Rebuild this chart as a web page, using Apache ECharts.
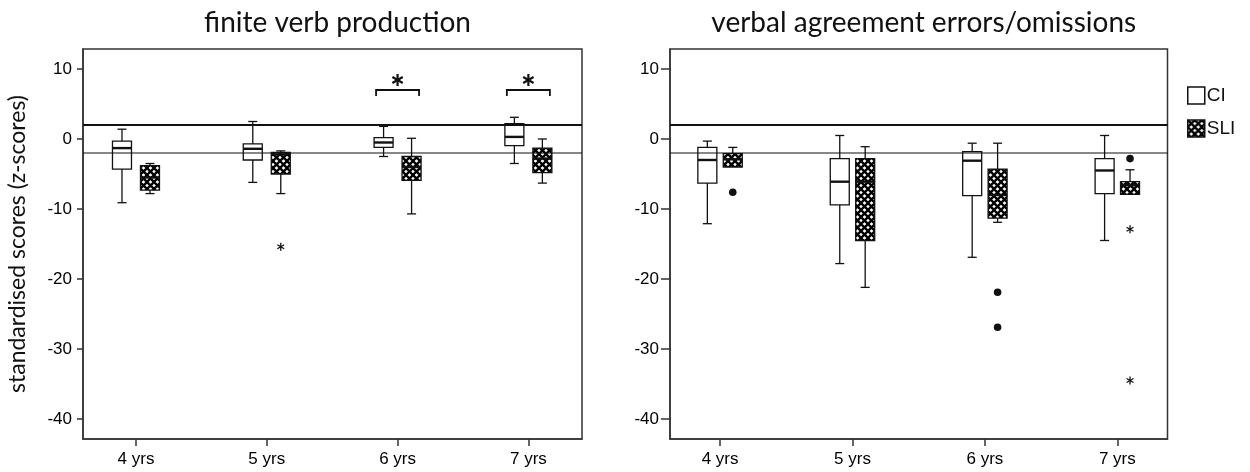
<!DOCTYPE html>
<html><head><meta charset="utf-8">
<script src="https://cdn.jsdelivr.net/npm/echarts@6/dist/echarts.min.js"></script>
<style>html,body{margin:0;padding:0;background:#fff}#c{width:1250px;height:472px}</style>
</head><body><div id="c"></div>
<script>
// ---------------- data ----------------
const categories = ['4 yrs', '5 yrs', '6 yrs', '7 yrs'];
const yTicks = [-40, -30, -20, -10, 0, 10];
const refLines = [2, -2];
const titles = ['finite verb production', 'verbal agreement errors/omissions'];
const yTitle = 'standardised scores (z-scores)';
const groupNames = ['CI', 'SLI'];

// each row: [min, Q1, median, Q3, max], one row per age category
const finiteCI  = [[-9.1, -4.3, -1.3, -0.3, 1.4], [-6.2, -3.0, -1.4, -0.7, 2.5], [-2.5, -1.2, -0.5, 0.2, 1.8], [-3.5, -0.95, 0.3, 2.2, 3.1]];
const finiteSLI = [[-7.8, -7.3, -5.5, -3.8, -3.5], [-7.8, -5.0, -2.2, -1.9, -1.7], [-10.7, -5.9, -4.0, -2.5, 0.1], [-6.3, -4.8, -2.8, -1.3, 0.0]];
const finiteSLIOutliers = [];
const finiteSLIExtremes = [['5 yrs', -15.4]];
const finiteSignificant = ['6 yrs', '7 yrs'];
const significanceLevel = 7;

const agreeCI  = [[-12.1, -6.3, -3.0, -1.2, -0.3], [-17.8, -9.4, -6.1, -2.8, 0.5], [-16.9, -8.1, -3.1, -1.8, -0.6], [-14.5, -7.8, -4.5, -2.8, 0.5]];
const agreeSLI = [[-4.0, -4.0, -2.9, -2.1, -1.2], [-21.2, -14.5, -6.1, -2.8, -1.1], [-11.9, -11.3, -8.0, -4.3, -0.6], [-7.9, -7.9, -6.6, -6.1, -4.4]];
const agreeSLIOutliers = [['4 yrs', -7.6], ['6 yrs', -21.9], ['6 yrs', -26.9], ['7 yrs', -2.8]];
const agreeSLIExtremes = [['7 yrs', -12.9], ['7 yrs', -34.5]];
const agreeSignificant = [];

// ---------------- styles ----------------
const INK = '#111';
const BOX_W = 19, CAP_W = 9;

function makeHatch() {
  const s = 7, c = document.createElement('canvas');
  c.width = s; c.height = s;
  const g = c.getContext('2d');
  g.fillStyle = '#fff'; g.fillRect(0, 0, s, s);
  g.strokeStyle = '#000'; g.lineWidth = 2.3;
  for (const dx of [-s, 0, s]) {
    g.beginPath(); g.moveTo(dx, 0); g.lineTo(dx + s, s); g.stroke();
    g.beginPath(); g.moveTo(dx + s, 0); g.lineTo(dx, s); g.stroke();
  }
  return c;
}
const hatch = { image: makeHatch(), repeat: 'repeat' };

function boxItem(offset, fill) {
  return function (params, api) {
    const x = api.value(0) + offset;
    const ys = [1, 2, 3, 4, 5].map(k => api.coord([x, api.value(k)])[1]);
    const cx = api.coord([x, 0])[0];
    const [yMin, yQ1, yMed, yQ3, yMax] = ys;
    const ls = { stroke: INK, lineWidth: 1.3 };
    const ch = [];
    if (yMax < yQ3 - 0.5) {
      ch.push({ type: 'line', shape: { x1: cx, y1: yQ3, x2: cx, y2: yMax }, style: ls });
      ch.push({ type: 'line', shape: { x1: cx - CAP_W / 2, y1: yMax, x2: cx + CAP_W / 2, y2: yMax }, style: ls });
    }
    if (yMin > yQ1 + 0.5) {
      ch.push({ type: 'line', shape: { x1: cx, y1: yQ1, x2: cx, y2: yMin }, style: ls });
      ch.push({ type: 'line', shape: { x1: cx - CAP_W / 2, y1: yMin, x2: cx + CAP_W / 2, y2: yMin }, style: ls });
    }
    ch.push({ type: 'rect', shape: { x: cx - BOX_W / 2, y: yQ3, width: BOX_W, height: yQ1 - yQ3 }, style: { fill: fill, stroke: INK, lineWidth: 1.3 } });
    ch.push({ type: 'line', shape: { x1: cx - BOX_W / 2, y1: yMed, x2: cx + BOX_W / 2, y2: yMed }, style: { stroke: INK, lineWidth: 2.4 } });
    return { type: 'group', children: ch };
  };
}

function starShape(cx, cy, r, w) {
  const ch = [];
  [90, 30, 150].forEach(a => {
    const rad = a * Math.PI / 180, dx = Math.cos(rad) * r, dy = Math.sin(rad) * r;
    ch.push({ type: 'line', shape: { x1: cx - dx, y1: cy - dy, x2: cx + dx, y2: cy + dy }, style: { stroke: INK, lineWidth: w } });
  });
  return ch;
}

function dotItem(offset) {
  return function (params, api) {
    const p = api.coord([api.value(0) + offset, api.value(1)]);
    return { type: 'circle', shape: { cx: p[0], cy: p[1], r: 3.8 }, style: { fill: INK } };
  };
}
function extremeItem(offset) {
  return function (params, api) {
    const p = api.coord([api.value(0) + offset, api.value(1)]);
    return { type: 'group', children: starShape(p[0], p[1], 4, 1.3) };
  };
}
function sigItem(params, api) {
  const p = api.coord([api.value(0), api.value(1)]);
  const hw = 21.5, leg = 6;
  const ch = [{ type: 'polyline', shape: { points: [[p[0] - hw, p[1] + leg], [p[0] - hw, p[1]], [p[0] + hw, p[1]], [p[0] + hw, p[1] + leg]] }, style: { stroke: INK, lineWidth: 1.8, fill: null } }];
  return { type: 'group', children: ch.concat(starShape(p[0], p[1] - 10, 6, 2.2)) };
}
function refItem(params, api) {
  const cs = params.coordSys;
  const y = api.coord([0, api.value(0)])[1];
  return { type: 'line', shape: { x1: cs.x, y1: y, x2: cs.x + cs.width, y2: y }, style: { stroke: INK, lineWidth: params.dataIndex === 0 ? 2 : 1.2 } };
}

const panels = [
  { grid: { left: 83, top: 49, width: 499, height: 390 }, xMin: -0.405, xMax: 3.41, off: 0.107, ci: finiteCI, sli: finiteSLI, out: finiteSLIOutliers, ext: finiteSLIExtremes, sig: finiteSignificant, tickLen: 6 },
  { grid: { left: 670, top: 49, width: 497.5, height: 390 }, xMin: -0.378, xMax: 3.379, off: 0.096, ci: agreeCI, sli: agreeSLI, out: agreeSLIOutliers, ext: agreeSLIExtremes, sig: agreeSignificant, tickLen: 9 }
];

const grids = [], xAxes = [], yAxes = [], series = [], titleOpts = [];
const tickFont = { fontFamily: 'Liberation Sans', fontSize: 17, color: '#000' };
const idx = c => categories.indexOf(c);

panels.forEach((pn, i) => {
  grids.push(Object.assign({ show: true, borderColor: '#333', borderWidth: 1.5, backgroundColor: '#fff' }, pn.grid));
  xAxes.push({
    gridIndex: i, type: 'value', min: pn.xMin, max: pn.xMax,
    axisLine: { show: true, onZero: false, lineStyle: { color: '#333', width: 1.5 } },
    axisTick: { show: true, customValues: categories.map((c, k) => k), length: 7, lineStyle: { color: '#333', width: 1.5 } },
    axisLabel: Object.assign({ customValues: categories.map((c, k) => k), formatter: v => categories[Math.round(v)], margin: 12 }, tickFont),
    splitLine: { show: false }
  });
  yAxes.push({
    gridIndex: i, type: 'value', min: -42.86, max: 12.857,
    name: i === 0 ? yTitle : '', nameLocation: 'middle', nameGap: 54,
    nameTextStyle: { fontFamily: 'Lato', fontSize: 23, color: '#111' },
    axisLine: { show: true, onZero: false, lineStyle: { color: '#333', width: 1.5 } },
    axisTick: { show: true, customValues: yTicks, length: pn.tickLen, lineStyle: { color: '#333', width: 1.5 } },
    axisLabel: Object.assign({ customValues: yTicks, margin: 11 }, tickFont),
    splitLine: { show: false }
  });
  titleOpts.push({
    text: titles[i], left: pn.grid.left + pn.grid.width / 2, top: 4, textAlign: 'center',
    textStyle: { fontFamily: 'Lato', fontSize: 28, fontWeight: 'normal', color: '#111' }
  });
  const common = { type: 'custom', xAxisIndex: i, yAxisIndex: i, silent: true, animation: false, clip: false };
  series.push(Object.assign({}, common, {
    name: groupNames[0], renderItem: boxItem(-pn.off, '#fff'),
    itemStyle: { color: '#fff', borderColor: INK, borderWidth: 1.3 },
    dimensions: ['age', 'min', 'q1', 'median', 'q3', 'max'], encode: { x: 0, y: [1, 2, 3, 4, 5] },
    data: pn.ci.map((d, k) => [k].concat(d)), z: 3
  }));
  series.push(Object.assign({}, common, {
    name: groupNames[1], renderItem: boxItem(pn.off, hatch),
    itemStyle: { color: hatch, borderColor: INK, borderWidth: 1.3 },
    dimensions: ['age', 'min', 'q1', 'median', 'q3', 'max'], encode: { x: 0, y: [1, 2, 3, 4, 5] },
    data: pn.sli.map((d, k) => [k].concat(d)), z: 3
  }));
  series.push(Object.assign({}, common, { name: 'ref' + i, renderItem: refItem, data: refLines.map(v => [v]), encode: { y: 0 }, z: 5 }));
  if (pn.out.length) series.push(Object.assign({}, common, { name: 'out' + i, renderItem: dotItem(pn.off), data: pn.out.map(d => [idx(d[0]), d[1]]), z: 4 }));
  if (pn.ext.length) series.push(Object.assign({}, common, { name: 'ext' + i, renderItem: extremeItem(pn.off), data: pn.ext.map(d => [idx(d[0]), d[1]]), z: 4 }));
  if (pn.sig.length) series.push(Object.assign({}, common, { name: 'sig' + i, renderItem: sigItem, data: pn.sig.map(c => [idx(c), significanceLevel]), z: 4 }));
});

const chart = echarts.init(document.getElementById('c'), null, { renderer: 'canvas' });
chart.setOption({
  animation: false,
  backgroundColor: '#fff',
  title: titleOpts,
  legend: {
    orient: 'vertical', left: 1187, top: 86, padding: 0, itemGap: 14, itemWidth: 17, itemHeight: 17,
    selectedMode: false,
    textStyle: { fontFamily: 'Liberation Sans', fontSize: 19, color: '#111', padding: [0, 0, 0, -3] },
    data: [
      { name: groupNames[0], icon: 'rect', itemStyle: { color: '#fff', borderColor: INK, borderWidth: 1.5 } },
      { name: groupNames[1], icon: 'rect', itemStyle: { color: hatch, borderColor: INK, borderWidth: 1.5 } }
    ]
  },
  grid: grids, xAxis: xAxes, yAxis: yAxes, series: series
});
</script></body></html>
